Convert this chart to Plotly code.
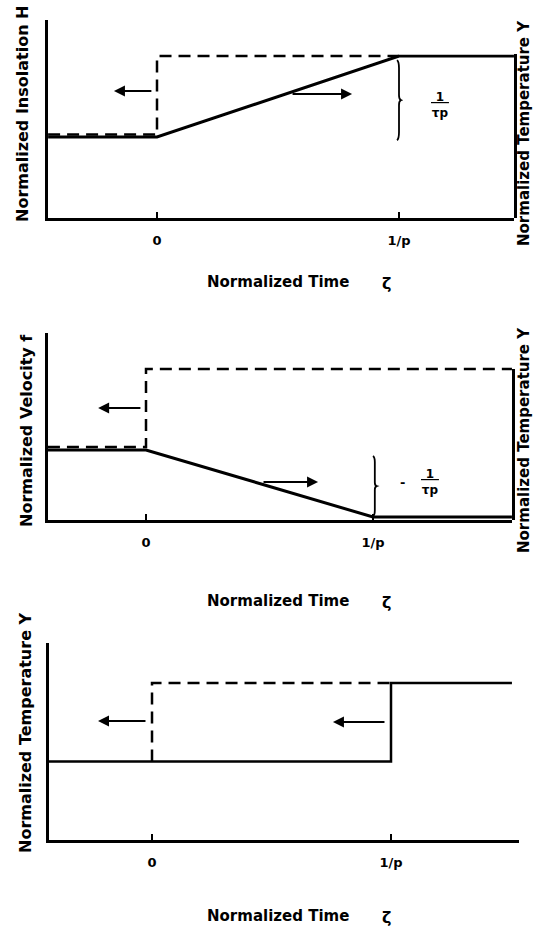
import plotly.graph_objects as go

# ---------------- data (normalized units) ----------------
# Panel 1: insolation step (dashed, left axis) and temperature ramp (solid, right axis)
p1_H_t = [-0.45, 0, 0, 1]
p1_H_v = [0.515, 0.515, 1.0, 1.0]
p1_Y_t = [-0.45, 0, 1, 1.475]
p1_Y_v = [0.5, 0.5, 1.0, 1.0]

# Panel 2: velocity step (dashed, left axis) and temperature ramp down (solid, right axis)
p2_f_t = [-0.432, 0, 0, 1.612]
p2_f_v = [0.483, 0.483, 1.0, 1.0]
p2_Y_t = [-0.432, 0, 1, 1.612]
p2_Y_v = [0.464, 0.464, 0.02, 0.02]

# Panel 3: temperature, dashed step at 0 and solid step at 1/p
p3_d_t = [0, 0, 1]
p3_d_v = [0.5, 1.0, 1.0]
p3_Y_t = [-0.431, 1, 1, 1.506]
p3_Y_v = [0.5, 0.5, 1.0, 1.0]

tick_vals = [0, 1]
tick_text = ["0", "1/p"]
x_title = "Normalized Time"
zeta = "ζ"
left_titles = ["Normalized Insolation H", "Normalized Velocity f", "Normalized Temperature Y"]
right_title = "Normalized Temperature Y"

W, H = 535, 929
def px(x): return x / W
def py(y): return 1 - y / H

FONT = "DejaVu Sans"
solid = dict(color="black", width=3)
dashed = dict(color="black", width=2.5, dash="12px,7px")

fig = go.Figure()
fig.add_trace(go.Scatter(x=p1_H_t, y=p1_H_v, mode="lines", line=dashed, xaxis="x", yaxis="y"))
fig.add_trace(go.Scatter(x=p1_Y_t, y=p1_Y_v, mode="lines", line=solid, xaxis="x", yaxis="y4"))
fig.add_trace(go.Scatter(x=p2_f_t, y=p2_f_v, mode="lines", line=dashed, xaxis="x2", yaxis="y2"))
fig.add_trace(go.Scatter(x=p2_Y_t, y=p2_Y_v, mode="lines", line=solid, xaxis="x2", yaxis="y5"))
fig.add_trace(go.Scatter(x=p3_d_t, y=p3_d_v, mode="lines", line=dashed, xaxis="x3", yaxis="y3"))
fig.add_trace(go.Scatter(x=p3_Y_t, y=p3_Y_v, mode="lines", line=dict(color="black", width=2.5),
                         xaxis="x3", yaxis="y3"))

def xax(dom, rng, anchor):
    return dict(domain=dom, range=rng, anchor=anchor, showline=True, linecolor="black",
                linewidth=2.5, ticks="inside", ticklen=6, tickwidth=2, tickcolor="black",
                tickvals=tick_vals, ticktext=tick_text, showgrid=False, zeroline=False,
                ticklabelstandoff=9,
                tickfont=dict(family=FONT, size=13, color="black", weight="bold"))

def yax(dom, rng, anchor, side="left"):
    return dict(domain=dom, range=rng, anchor=anchor, side=side, showline=True,
                linecolor="black", linewidth=2.5, ticks="", showticklabels=False,
                showgrid=False, zeroline=False)

fig.update_layout(
    width=W, height=H, margin=dict(l=0, r=0, t=0, b=0),
    paper_bgcolor="white", plot_bgcolor="rgba(0,0,0,0)", showlegend=False,
    xaxis=xax([px(48), px(514)], [-0.4504, 1.4752], "y"),
    yaxis=yax([py(218), py(20)], [0, 1.222], "x"),
    yaxis4=yax([py(218), py(54.4)], [0, 1.01], "x", side="right"),
    xaxis2=xax([px(48), px(512)], [-0.4317, 1.6123], "y2"),
    yaxis2=yax([py(520), py(333)], [0, 1.238], "x2"),
    yaxis5=yax([py(520), py(369)], [0, 1.0], "x2", side="right"),
    xaxis3=xax([px(49), px(519)], [-0.431, 1.5356], "y3"),
    yaxis3=yax([py(840), py(643)], [0, 1.255], "x3"),
)

ann = []
def text(x, y, t, size=16, angle=0):
    ann.append(dict(xref="paper", yref="paper", x=px(x), y=py(y), text=t, showarrow=False,
                    textangle=angle, xanchor="center", yanchor="middle",
                    font=dict(family=FONT, size=size, color="black", weight="bold")))

# axis titles
text(22, 114, left_titles[0], angle=-90)
text(26, 431, left_titles[1], angle=-90)
text(25, 733, left_titles[2], angle=-90)
text(524, 133, right_title, size=15, angle=-90)
text(524, 440, right_title, size=15, angle=-90)
for yt in (282, 601, 916):
    text(278, yt, x_title, size=15)
    text(386, yt + 1, zeta, size=16)

def arrow(xr, yr, x_head, x_tail, y):
    ann.append(dict(xref=xr, yref=yr, axref=xr, ayref=yr, x=x_head, y=y, ax=x_tail, ay=y,
                    text="", showarrow=True, arrowhead=2, arrowsize=1.1, arrowwidth=2,
                    arrowcolor="black"))

arrow("x", "y", -0.178, -0.017, 0.784)
arrow("x", "y", 0.806, 0.554, 0.765)
arrow("x2", "y2", -0.211, -0.018, 0.742)
arrow("x2", "y2", 0.758, 0.511, 0.252)
arrow("x3", "y3", -0.226, -0.021, 0.758)
arrow("x3", "y3", 0.757, 0.979, 0.752)

def frac(xr, yr, x, y):
    ann.append(dict(xref=xr, yref=yr, x=x, y=y, text="<u>\u2009\u20091\u2009\u2009</u><br>τp",
                    showarrow=False, xanchor="center", yanchor="middle",
                    font=dict(family=FONT, size=12, color="black", weight="bold")))

frac("x", "y4", 1.17, 0.70)
frac("x2", "y5", 1.25, 0.25)
ann.append(dict(xref="x2", yref="y5", x=1.13, y=0.25, text="-", showarrow=False,
                font=dict(family=FONT, size=13, color="black", weight="bold")))
fig.update_layout(annotations=ann)

# braces spanning the temperature change
def brace(xr, yr, x, top, bot, dx):
    mid = (top + bot) / 2
    h = top - bot
    path = (f"M {x - dx},{top} Q {x},{top - 0.02*h} {x},{top - 0.1*h} "
            f"L {x},{mid + 0.06*h} Q {x},{mid + 0.01*h} {x + dx},{mid} "
            f"Q {x},{mid - 0.01*h} {x},{mid - 0.06*h} "
            f"L {x},{bot + 0.1*h} Q {x},{bot + 0.02*h} {x - dx},{bot}")
    fig.add_shape(type="path", xref=xr, yref=yr, path=path,
                  line=dict(color="black", width=1.8))

brace("x", "y4", 1.0, p1_Y_v[-1] - 0.025, p1_Y_v[0] - 0.02, 0.008)
brace("x2", "y5", 1.0 + 0.008, p2_Y_v[0] - 0.04, p2_Y_v[-1] + 0.005, 0.008)

fig.write_html("out.html")
